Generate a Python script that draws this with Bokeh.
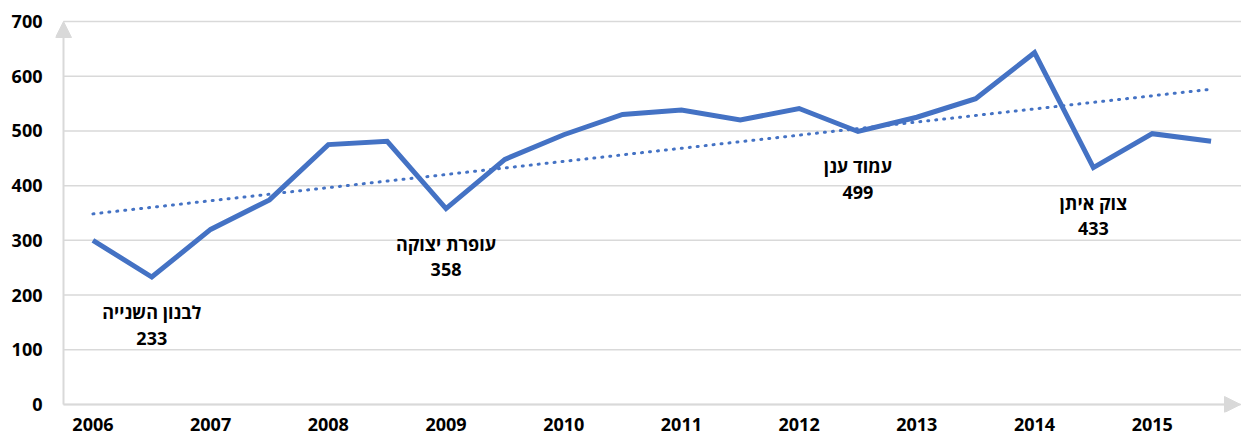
import numpy as np
from bokeh.plotting import figure
from bokeh.models import Range1d, FixedTicker, Arrow, NormalHead, ColumnDataSource
from bokeh.core.properties import value
from bokeh.embed import file_html
from bokeh.resources import INLINE

# ---- data ----
years = ["2006", "2007", "2008", "2009", "2010", "2011", "2012", "2013", "2014", "2015"]
values = [300, 233, 320, 374, 475, 481, 358, 448, 493, 530,
          538, 520, 541, 499, 525, 559, 643, 433, 495, 481]
events = ["לבנון השנייה", "עופרת יצוקה", "עמוד ענן", "צוק איתן"]
event_idx = [1, 6, 13, 17]
y_ticks = [0, 100, 200, 300, 400, 500, 600, 700]

FONT = "Open Sans"
BLUE = "#4472C4"
GRAY = "#D9D9D9"

x = np.arange(len(values))
slope, intercept = np.polyfit(x, values, 1)
trend = slope * x + intercept

X0, X1 = -0.5, 19.5          # axis extent (category space)
XS, XE = -0.636, 19.517      # frame range (a little room for the arrow heads)
YS, YE = -14.6, 714.6

p = figure(width=1241, height=435,
           x_range=Range1d(XS, XE), y_range=Range1d(YS, YE),
           output_backend="svg", toolbar_location=None,
           min_border_left=55, min_border_right=0,
           min_border_top=13, min_border_bottom=23)
p.outline_line_color = None
p.background_fill_color = "white"
p.border_fill_color = "white"

p.xgrid.visible = False
p.ygrid.visible = False

# axes: labels only, lines drawn below
for ax in (p.xaxis, p.yaxis):
    ax.axis_line_color = None
    ax.major_tick_line_color = None
    ax.minor_tick_line_color = None
    ax.major_tick_out = 0
    ax.major_tick_in = 0
    ax.major_label_text_font = FONT
    ax.major_label_text_font_style = "bold"
    ax.major_label_text_font_size = "18px"
    ax.major_label_text_color = "#000000"
p.yaxis.ticker = FixedTicker(ticks=y_ticks)
p.yaxis.major_label_standoff = 13
p.xaxis.ticker = FixedTicker(ticks=[2 * i for i in range(len(years))])
p.xaxis.major_label_overrides = {2 * i: y for i, y in enumerate(years)}
p.xaxis.major_label_standoff = 5

# horizontal grid lines
p.segment(x0=[X0] * len(y_ticks), x1=[XE] * len(y_ticks), y0=y_ticks, y1=y_ticks,
          line_color=GRAY, line_width=1.5)

# axis lines with arrow heads
p.add_layout(Arrow(end=NormalHead(size=16, fill_color=GRAY, line_color=GRAY, line_width=1),
                   x_start=X0, y_start=0, x_end=X0, y_end=700,
                   line_color=GRAY, line_width=2))
p.add_layout(Arrow(end=NormalHead(size=16, fill_color=GRAY, line_color=GRAY, line_width=1),
                   x_start=X0, y_start=0, x_end=X1, y_end=0,
                   line_color=GRAY, line_width=2))

# series
p.line(x, trend, line_color=BLUE, line_width=3, line_dash="1 7", line_cap="round")
p.line(x, values, line_color=BLUE, line_width=5, line_join="miter")

# event labels
ev_vals = [values[i] for i in event_idx]
src = ColumnDataSource(dict(x=event_idx, y=ev_vals, name=events,
                            num=[str(v) for v in ev_vals]))
p.text(x="x", y="y", text="name", source=src, y_offset=35,
       text_align="center", text_baseline="middle",
       text_font=value(FONT), text_font_style="bold",
       text_font_size="18px", text_color="#000000")
p.text(x="x", y="y", text="num", source=src, y_offset=61,
       text_align="center", text_baseline="middle",
       text_font=value(FONT), text_font_style="bold",
       text_font_size="18px", text_color="#000000")

open("out.html", "w").write(file_html(p, INLINE))
